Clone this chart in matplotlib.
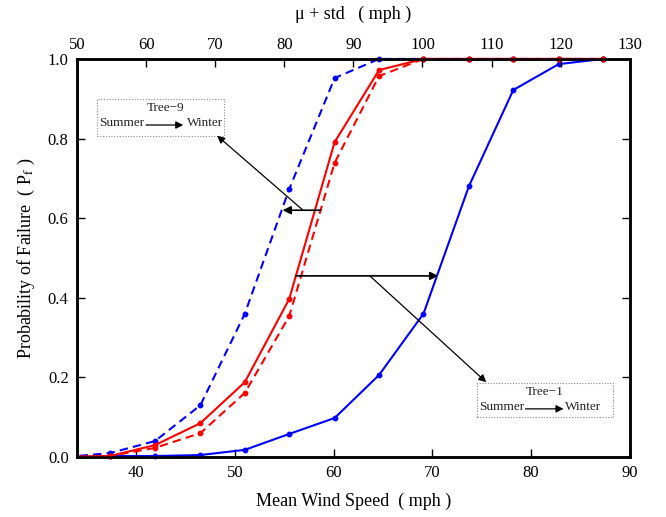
import matplotlib
matplotlib.use("Agg")
import matplotlib.pyplot as plt
from matplotlib.patches import Rectangle

plt.rcParams['font.family'] = ['Liberation Serif', 'DejaVu Serif']
plt.rcParams['mathtext.fontset'] = 'stix'

# Mean wind speed (mph) at evaluation points
wind = [32.9, 37.35, 41.9, 46.5, 51.0, 55.5, 60.1, 64.6, 69.1, 73.7, 78.2, 82.8, 87.3]

# Probability of failure
tree1_winter = [0.0, 0.0025, 0.0025, 0.005, 0.018, 0.058, 0.098, 0.206, 0.36, 0.68, 0.922, 0.987, 1.0]
tree9_summer = [0.0, 0.01, 0.04, 0.13, 0.36, 0.673, 0.952, 1.0, 1.0, 1.0, 1.0, 1.0, 1.0]
tree1_summer = [0.0, 0.0025, 0.03, 0.085, 0.188, 0.397, 0.791, 0.972, 1.0, 1.0, 1.0, 1.0, 1.0]
tree9_winter = [0.0, 0.0025, 0.023, 0.06, 0.161, 0.354, 0.739, 0.957, 1.0, 1.0, 1.0, 1.0, 1.0]

xticks_bottom = [40, 50, 60, 70, 80, 90]
xticks_top = [50, 60, 70, 80, 90, 100, 110, 120, 130]
yticks = [0.0, 0.2, 0.4, 0.6, 0.8, 1.0]

fig = plt.figure(figsize=(6.66, 5.17), dpi=100)
ax = fig.add_axes([0.1156, 0.116, 0.830, 0.770])

clip = Rectangle((0, -0.02), 1, 1.05, transform=ax.transAxes, fill=False, visible=False)
ax.add_patch(clip)

ms = 3.2
lw = 1.5
lines = []
lines += ax.plot(wind, tree1_winter, '-', color='#0000ff', lw=lw, marker='o', ms=ms, zorder=3)
lines += ax.plot(wind, tree9_summer, '--', color='#0000ff', lw=lw, marker='o', ms=ms, dashes=(4, 2.5), zorder=3)
lines += ax.plot(wind, tree9_winter, '--', color='#ff0000', lw=lw, marker='o', ms=ms, dashes=(4, 2.5), zorder=4)
lines += ax.plot(wind, tree1_summer, '-', color='#ff0000', lw=lw, marker='o', ms=ms, zorder=4)
for ln in lines:
    ln.set_clip_path(clip)

ax.set_xlim(34, 90)
ax.set_ylim(0, 1.0)
ax.set_xticks(xticks_bottom)
ax.set_yticks(yticks)
ax.set_yticklabels([f"{v:.1f}" for v in yticks])
ax.tick_params(direction='in', length=6, width=1, labelsize=12, right=True, top=False, pad=6)
for s in ax.spines.values():
    s.set_linewidth(1.8)

ax.set_xlabel('Mean Wind Speed  ( mph )', fontsize=13, labelpad=8)
ax.set_ylabel('Probability of Failure  ( P$_{\\mathrm{f}}$ )', fontsize=13, labelpad=8)

ax2 = ax.twiny()
ax2.set_xlim(50, 130)
ax2.set_xticks(xticks_top)
ax2.tick_params(direction='in', length=6, width=1, labelsize=12, pad=4)
ax2.set_xlabel('μ + std   ( mph )', fontsize=13, labelpad=13)
for s in ax2.spines.values():
    s.set_linewidth(1.8)

arrowkw = dict(arrowstyle='-|>', color='black', lw=1.2, mutation_scale=12, shrinkA=0, shrinkB=0)
thin = dict(arrowstyle='-|>', color='black', lw=0.9, mutation_scale=11, shrinkA=0, shrinkB=0)

# Tree-9 annotation
ax.annotate('', xy=(54.83, 0.62), xytext=(58.7, 0.62), arrowprops=arrowkw, zorder=6)
ax.annotate('', xy=(48.2, 0.807), xytext=(56.9, 0.62), arrowprops=thin, zorder=6)
ax.add_patch(Rectangle((36.03, 0.8065), 48.94 - 36.03, 0.8995 - 0.8065, fill=True, fc='white',
                       ec='#888888', lw=0.8, ls=(0, (1, 1.5)), zorder=5))
ax.text(42.94, 0.877, 'Tree−9', ha='center', va='center', fontsize=9.5, color='#222222', zorder=6)
ax.text(38.57, 0.840, 'Summer', ha='center', va='center', fontsize=9.5, color='#222222', zorder=6)
ax.text(47.0, 0.840, 'Winter', ha='center', va='center', fontsize=9.5, color='#222222', zorder=6)
ax.annotate('', xy=(44.77, 0.834), xytext=(41.0, 0.834), arrowprops=thin, zorder=6)

# Tree-1 annotation
ax.annotate('', xy=(70.6, 0.455), xytext=(56.15, 0.455), arrowprops=arrowkw, zorder=6)
ax.annotate('', xy=(75.46, 0.188), xytext=(63.67, 0.455), arrowprops=thin, zorder=6)
ax.add_patch(Rectangle((74.55, 0.1005), 88.27 - 74.55, 0.186 - 0.1005, fill=True, fc='white',
                       ec='#888888', lw=0.8, ls=(0, (1, 1.5)), zorder=5))
ax.text(81.36, 0.163, 'Tree−1', ha='center', va='center', fontsize=9.5, color='#222222', zorder=6)
ax.text(76.99, 0.126, 'Summer', ha='center', va='center', fontsize=9.5, color='#222222', zorder=6)
ax.text(85.22, 0.126, 'Winter', ha='center', va='center', fontsize=9.5, color='#222222', zorder=6)
ax.annotate('', xy=(83.29, 0.121), xytext=(79.43, 0.121), arrowprops=thin, zorder=6)

fig.savefig('out.png', dpi=100)
